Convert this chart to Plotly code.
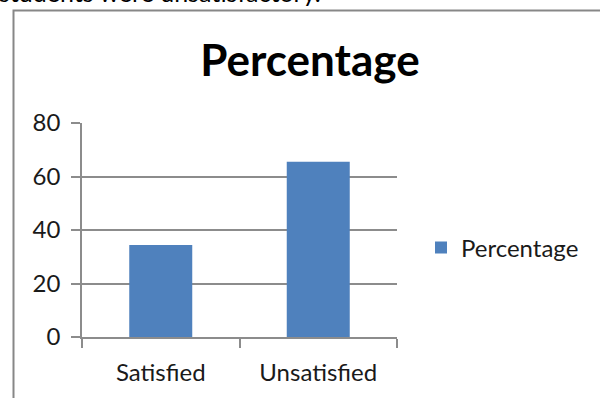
import plotly.graph_objects as go

categories = ["Satisfied", "Unsatisfied"]
values = [34.4, 65.5]
series_name = "Percentage"
title_text = "Percentage"
y_ticks = [0, 20, 40, 60, 80]
caption_text = "students were unsatisfactory."

W, H = 600, 398
L, R, T, B = 82, 203, 123, 61
pw, ph = W - L - R, H - T - B

def px_x(px):
    return (px - L) / pw

def px_y(py):
    return (H - B - py) / ph

font = "Lato, 'Open Sans', sans-serif"
grid = "#8c8c8c"

fig = go.Figure()
fig.add_trace(go.Bar(x=categories, y=values, name=series_name,
                     marker=dict(color="#4F81BD", line=dict(width=0)),
                     showlegend=True))

fig.update_layout(
    width=W, height=H,
    margin=dict(l=L, r=R, t=T, b=B),
    paper_bgcolor="white", plot_bgcolor="white",
    bargap=0.6,
    font=dict(family=font, color="#1a1a1a", size=24),
    title=dict(text="<b>" + title_text + "</b>", x=310 / W, xanchor="center",
               y=1 - 61 / H, yanchor="middle", font=dict(size=44, color="black", family=font)),
    showlegend=True,
    legend=dict(x=px_x(421), xanchor="left", y=px_y(248), yanchor="middle",
                font=dict(size=24, family=font), bgcolor="rgba(0,0,0,0)",
                itemwidth=30),
    xaxis=dict(showline=True, linecolor=grid, linewidth=1.5, ticks="outside",
               tickson="boundaries", ticklen=9, tickcolor=grid, tickwidth=1.5,
               showgrid=False, tickfont=dict(size=24), ticklabelstandoff=13),
    yaxis=dict(range=[0, 80], tickvals=y_ticks, showline=True, linecolor=grid,
               linewidth=1.5, ticks="outside", ticklen=9, tickcolor=grid, tickwidth=1.5,
               showgrid=True, gridcolor=grid, gridwidth=1.5, zeroline=False,
               tickfont=dict(size=24), ticklabelstandoff=6),
)

# outer chart frame
fig.add_shape(type="rect", xref="paper", yref="paper",
              x0=px_x(13.5), x1=px_x(620), y0=px_y(420), y1=px_y(10.5),
              line=dict(color="#878787", width=2), fillcolor="rgba(0,0,0,0)", layer="above")

# cut-off document text above the chart
fig.add_annotation(text=caption_text, xref="paper", yref="paper",
                   x=px_x(-3), xanchor="left", y=px_y(9), yanchor="bottom",
                   showarrow=False, font=dict(size=25, family=font, color="black"))

fig.write_html("out.html")
